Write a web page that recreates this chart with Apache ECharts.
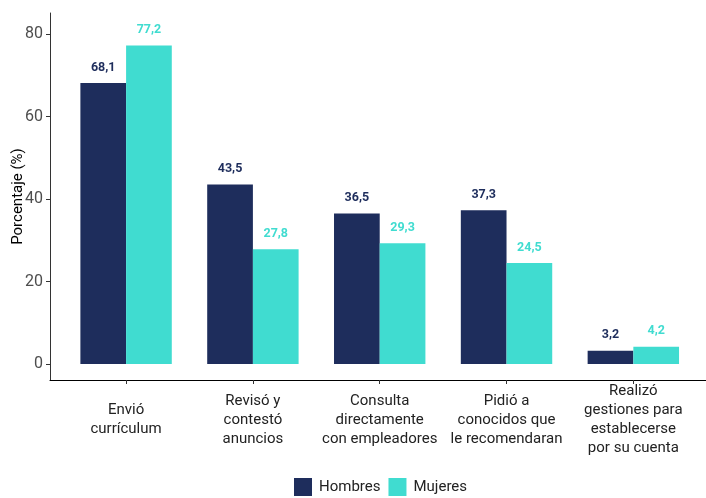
<!DOCTYPE html>
<html><head><meta charset="utf-8">
<script src="https://cdn.jsdelivr.net/npm/echarts@6/dist/echarts.min.js"></script>
<style>html,body{margin:0;padding:0;background:#fff}#c{width:706px;height:498px}</style>
</head><body><div id="c"></div>
<script>
const categories = ["Envió\ncurrículum", "Revisó y\ncontestó\nanuncios", "Consulta\ndirectamente\ncon empleadores", "Pidió a\nconocidos que\nle recomendaran", "Realizó\ngestiones para\nestablecerse\npor su cuenta"];
const hombres = [68.1, 43.5, 36.5, 37.3, 3.2];
const mujeres = [77.2, 27.8, 29.3, 24.5, 4.2];
const yTicks = [0, 20, 40, 60, 80];
const seriesNames = ["Hombres", "Mujeres"];
const colors = ["#1E2D5C", "#40DCD0"];

const positions = categories.map((_, i) => i + 1);
const font = "Roboto, Liberation Sans, Arial, sans-serif";
const chart = echarts.init(document.getElementById('c'));
function mk(name, vals, color) {
  return {
    name: name, type: 'bar', barWidth: 45.7, barGap: '0%',
    data: vals.map((v, i) => [positions[i], v]),
    itemStyle: { color: color },
    label: { show: true, position: 'top', distance: 9, color: color, fontWeight: 'bold', fontSize: 12.5, fontFamily: font,
      formatter: p => p.value[1].toFixed(1).replace('.', ',') }
  };
}
chart.setOption({
  animation: false,
  color: colors,
  grid: { left: 50, right: 0, top: 13, bottom: 118, containLabel: false, outerBoundsMode: 'none' },
  xAxis: {
    type: 'value', min: 0.4, max: 5.573,
    splitLine: { show: false },
    axisLine: { show: true, onZero: false, lineStyle: { color: '#000', width: 1 } },
    axisTick: { show: true, customValues: positions, length: 4, lineStyle: { color: '#333' } },
    axisLabel: { customValues: positions, formatter: v => categories[Math.round(v) - 1] || '',
      color: '#222', fontSize: 15, fontFamily: font, lineHeight: 19, verticalAlign: 'middle', margin: 40 }
  },
  yAxis: {
    type: 'value', min: -3.88, max: 85.1,
    name: 'Porcentaje (%)', nameLocation: 'middle', nameGap: 24, nameMoveOverlap: false,
    nameTextStyle: { color: '#000', fontSize: 15, fontFamily: font },
    splitLine: { show: false },
    axisLine: { show: true, onZero: false, lineStyle: { color: '#333', width: 1 } },
    axisTick: { show: true, customValues: yTicks, length: 4, lineStyle: { color: '#333' } },
    axisLabel: { customValues: yTicks, color: '#4D4D4D', fontSize: 16, fontFamily: font, margin: 7 }
  },
  legend: {
    bottom: 2, left: 294, padding: 0, itemWidth: 18, itemHeight: 18, itemGap: 8, icon: 'rect',
    textStyle: { fontSize: 15, fontFamily: font, color: '#222', padding: [0, 0, 0, 2] },
    data: seriesNames
  },
  series: [mk(seriesNames[0], hombres, colors[0]), mk(seriesNames[1], mujeres, colors[1])]
});
</script></body></html>
